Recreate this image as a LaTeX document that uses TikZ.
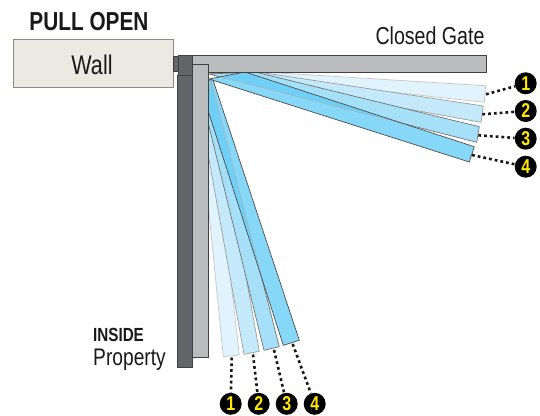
\documentclass[tikz,border=0pt]{standalone}
\usepackage{fontspec}
\setmainfont{Liberation Sans}
\newfontfamily\narrowfont[FakeStretch=0.8]{Liberation Sans}
\newfontfamily\narrowbold[FakeStretch=0.8,BoldFont={Liberation Sans Bold}]{Liberation Sans}
\definecolor{wallfill}{HTML}{ECE8E2}
\definecolor{wallline}{HTML}{8C8A86}
\definecolor{postdark}{HTML}{646569}
\definecolor{postlight}{HTML}{BBBCBE}
\definecolor{bladeone}{HTML}{E1F3FC}
\definecolor{bladetwo}{HTML}{C4E9FA}
\definecolor{bladethree}{HTML}{A6E0F8}
\definecolor{bladefour}{HTML}{87D7F8}
\definecolor{bladeover}{HTML}{6FCFF6}
\definecolor{numyellow}{HTML}{FFE600}
\tikzset{
  bladea/.style={fill=bladeone,draw=black!22,line width=0.7pt,line join=round},
  bladeb/.style={fill=bladetwo,draw=black!38,line width=0.7pt,line join=round},
  bladec/.style={fill=bladethree,draw=black!55,line width=0.7pt,line join=round},
  bladed/.style={fill=bladefour,line width=0.7pt,line join=round},
  bladeedge/.style={draw=black!70,line width=0.7pt,line join=round},
  overlap/.style={fill=bladeover,draw=black!30,line width=0.5pt},
  postbox/.style={line width=1pt,draw=black!75,line join=miter},
  leader/.style={line width=2.6pt,draw=black!90,dash pattern=on 2.8pt off 3pt},
  badge/.style={circle,fill=black,inner sep=0pt,minimum size=22pt,text=numyellow,font=\narrowfont\bfseries\fontsize{20}{20}\selectfont},
  label/.style={inner sep=0pt,text=black!90}
}
\def\upC{(255,72) -- (479.3,126.7) -- (476.7,142.3) -- (209,74) -- cycle}
\def\upD{(245,72) -- (474.3,146.7) -- (469.3,162) -- (209,79) -- cycle}
\def\loC{(211,80) -- (279.3,346.7) -- (264,350.3) -- (205,110) -- cycle}
\def\loD{(213,80) -- (299.3,340.3) -- (283.3,345.3) -- (205,101) -- (205,80) -- cycle}
\begin{document}
\begin{tikzpicture}[x=1pt,y=-1pt]
\useasboundingbox (0,0) rectangle (540,415);
% upper fan
\draw[bladea] (263,72) -- (485.7,85.7) -- (484.3,102.3) -- (209,72) -- cycle;
\draw[bladeb] (258,72) -- (483.3,106) -- (481,122.3) -- (209,73) -- cycle;
\draw[bladec] \upC;
\fill[bladed] \upD;
\begin{scope}
  \clip \upD;
  \path[overlap,draw] \upC;
\end{scope}
\draw[bladeedge] \upD;
% lower fan
\draw[bladea] (208,80) -- (239.3,355) -- (223.3,356.7) -- (205,172) -- cycle;
\draw[bladeb] (211,80) -- (259.3,351.3) -- (244,354.3) -- (205,137) -- cycle;
\draw[bladec] \loC;
\fill[bladed] \loD;
\begin{scope}
  \clip \loD;
  \path[overlap,draw] \loC;
\end{scope}
\draw[bladeedge] \loD;
% structure
\node[draw=wallline,line width=1pt,fill=wallfill,minimum width=160.5pt,minimum height=48pt,anchor=north west,inner sep=0pt] (wall) at (12.5,39) {};
\node[label,font=\narrowfont\fontsize{27}{27}\selectfont] (walltext) at (92,65) {Wall};
\draw[postbox,fill=postdark] (173,56) rectangle (178,71);
\draw[postbox,fill=postdark] (177.5,75) rectangle (192,367);
\draw[postbox,fill=postdark] (178,55.5) rectangle (192,75);
\draw[postbox,fill=postlight] (192,55.5) rectangle (486,72);
\draw[postbox,fill=postlight] (192,64) rectangle (208.5,357);
\node[label,font=\narrowbold\bfseries\fontsize{26}{26}\selectfont] (title) at (89,22) {PULL OPEN};
\node[label,font=\narrowfont\fontsize{24.5}{24.5}\selectfont] (gate) at (430,36) {Closed Gate};
\node[label,anchor=west,font=\narrowbold\bfseries\fontsize{19}{19}\selectfont] (inside) at (93,335) {INSIDE};
\node[label,anchor=west,font=\narrowfont\fontsize{24}{24}\selectfont] (prop) at (93,360) {Property};
% badges
\node[badge] (r1) at (525.7,83.3) {1};
\node[badge] (r2) at (525.7,111) {2};
\node[badge] (r3) at (525.7,138.7) {3};
\node[badge] (r4) at (525.7,166.7) {4};
\node[badge] (b1) at (230.7,403.8) {1};
\node[badge] (b2) at (258.7,403.8) {2};
\node[badge] (b3) at (286.7,403.8) {3};
\node[badge] (b4) at (314.7,403.8) {4};
\coordinate (re1) at (486,94.3);
\coordinate (re2) at (482.3,114.3);
\coordinate (re3) at (478.3,135.3);
\coordinate (re4) at (472,155);
\coordinate (be1) at (231.7,357.5);
\coordinate (be2) at (253,354.5);
\coordinate (be3) at (274,350);
\coordinate (be4) at (292.7,344);
\foreach \n in {1,2,3,4}{
  \draw[leader] (re\n) -- (r\n);
  \draw[leader] (be\n) -- (b\n);
}
\end{tikzpicture}
\end{document}
